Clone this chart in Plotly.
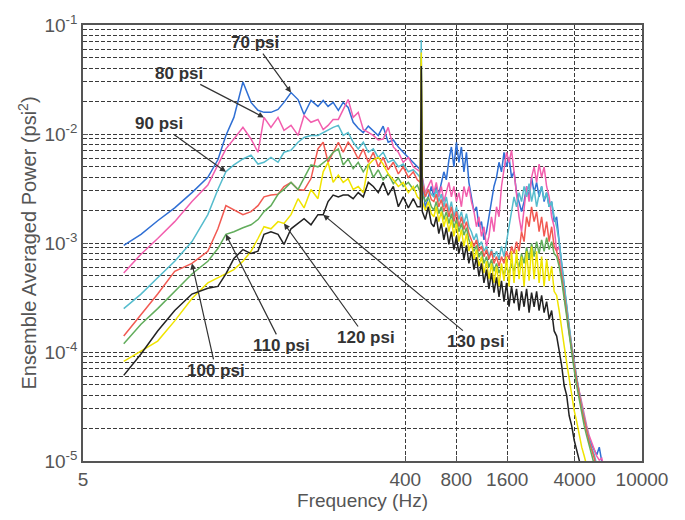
import math
import plotly.graph_objects as go

# Frequency bins (Hz) shared by all pressure cases
FREQ = [8.7, 11.0, 13.8, 17.4, 22.0, 27.3, 31.3, 34.9, 38.9, 44.0,
        49.1, 54.0, 58.6, 64.4, 70.9, 76.9, 84.6, 93.1, 101, 111,
        122, 131, 140, 150, 161, 172, 184, 197, 211, 226,
        242, 259, 277, 296, 317, 340, 364, 389, 417, 446,
        471, 491, 497, 504, 525, 547, 570,
        590, 610, 631, 653, 676, 699, 724, 749, 775, 802,
        829, 858, 888, 919, 950, 983, 1018, 1053, 1089, 1127,
        1166, 1207, 1248, 1292, 1336, 1383, 1431, 1480, 1532, 1585,
        1640, 1697, 1755, 1816, 1879, 1944, 2012, 2082, 2154, 2228,
        2306, 2386, 2468, 2554, 2642, 2734, 2829, 2927, 3028, 3133,
        3242, 3355, 3471, 3591, 3716, 3845, 3978, 4116, 4258, 4406,
        4559, 4717, 4881, 5050, 5225, 5406, 5593, 5787, 5988, 6196]

# Ensemble averaged power (psi^2) for each supply pressure
P70 = [9.5e-4, 1.2e-3, 1.6e-3, 2.1e-3, 2.9e-3, 4.0e-3, 5.8e-3, 9.7e-3, 1.42e-2, 3.0e-2,
       1.95e-2, 1.65e-2, 1.58e-2, 1.58e-2, 1.68e-2, 1.95e-2, 2.4e-2, 2.07e-2, 1.51e-2, 2.03e-2,
       1.79e-2, 2.03e-2, 1.79e-2, 1.95e-2, 1.65e-2, 1.95e-2, 1.75e-2, 1.28e-2, 1.13e-2, 1.03e-2,
       1.18e-2, 1.08e-2, 9.7e-3, 1.18e-2, 8.4e-3, 8.8e-3, 7.6e-3, 6.8e-3, 6.1e-3, 5.5e-3,
       5.0e-3, 4.7e-3, 1.95e-2, 4.0e-3, 2.1e-3, 2.65e-3, 3.3e-3,
       2.65e-3, 3.3e-3, 2.8e-3, 3.6e-3, 4.5e-3, 3.8e-3, 5.8e-3, 7.6e-3, 5.0e-3, 8.4e-3,
       5.5e-3, 7.6e-3, 4.5e-3, 6.8e-3, 3.6e-3, 2.65e-3, 1.94e-3, 2.15e-3, 1.41e-3, 1.57e-3,
       1.07e-3, 1.27e-3, 1.74e-3, 2.4e-3, 3.3e-3, 4.0e-3, 5.5e-3, 4.5e-3, 6.8e-3, 5.0e-3,
       6.1e-3, 4.0e-3, 4.5e-3, 2.9e-3, 2.4e-3, 1.94e-3, 2.4e-3, 3.3e-3, 2.65e-3, 4.0e-3,
       2.9e-3, 3.6e-3, 2.65e-3, 3.3e-3, 2.4e-3, 2.9e-3, 2.15e-3, 2.4e-3, 1.57e-3, 1.74e-3,
       1.03e-3, 6.8e-4, 4.0e-4, 2.6e-4, 1.56e-4, 1.03e-4, 7.5e-5, 5.5e-5, 4.0e-5, 3.2e-5,
       2.4e-5, 1.9e-5, 1.6e-5, 1.4e-5, 1.26e-5, 1.14e-5, 1.34e-5, 9.8e-6, 7.5e-6, 5.4e-6]

P80 = [5.3e-4, 7.9e-4, 1.1e-3, 1.57e-3, 2.4e-3, 3.4e-3, 5.2e-3, 7.3e-3, 9.0e-3, 1.15e-2,
       9.0e-3, 6.8e-3, 1.42e-2, 1.15e-2, 1.42e-2, 1.08e-2, 1.2e-2, 9.7e-3, 1.48e-2, 1.28e-2,
       1.36e-2, 1.1e-2, 1.2e-2, 1.36e-2, 1.36e-2, 1.68e-2, 2.07e-2, 1.42e-2, 1.58e-2, 1.1e-2,
       1.03e-2, 9.7e-3, 8.8e-3, 9.0e-3, 1.15e-2, 7.6e-3, 6.8e-3, 5.5e-3, 6.1e-3, 5.0e-3,
       4.7e-3, 4.5e-3, 1.28e-2, 4.0e-3, 2.9e-3, 3.3e-3, 3.8e-3,
       2.9e-3, 3.6e-3, 2.65e-3, 3.3e-3, 2.4e-3, 2.9e-3, 3.6e-3, 2.65e-3, 3.3e-3, 2.4e-3,
       2.9e-3, 2.15e-3, 3.3e-3, 2.65e-3, 3.3e-3, 2.4e-3, 1.94e-3, 1.41e-3, 1.74e-3, 1.15e-3,
       1.41e-3, 9.3e-4, 1.15e-3, 1.74e-3, 1.27e-3, 2.15e-3, 1.74e-3, 3.3e-3, 5.0e-3, 6.8e-3,
       5.5e-3, 7.1e-3, 4.5e-3, 2.65e-3, 1.74e-3, 1.27e-3, 2.15e-3, 3.3e-3, 2.4e-3, 4.0e-3,
       5.0e-3, 3.6e-3, 5.3e-3, 4.0e-3, 5.0e-3, 3.3e-3, 2.65e-3, 1.74e-3, 1.41e-3, 8.4e-4,
       9.3e-4, 5.5e-4, 3.6e-4, 2.4e-4, 1.56e-4, 1.14e-4, 8.3e-5, 5.7e-5, 4.4e-5, 3.4e-5,
       2.6e-5, 2.1e-5, 1.7e-5, 1.46e-5, 1.26e-5, 1.11e-5, 1.02e-5, 1.06e-5, 8.3e-6, 6.0e-6]

P90 = [2.5e-4, 3.4e-4, 4.8e-4, 6.8e-4, 1.03e-3, 1.82e-3, 3.1e-3, 4.5e-3, 5.2e-3, 5.9e-3,
       6.4e-3, 5.3e-3, 5.5e-3, 6.1e-3, 5.5e-3, 6.8e-3, 7.1e-3, 8.4e-3, 9.3e-3, 9.7e-3,
       9.7e-3, 1.03e-2, 1.1e-2, 1.15e-2, 1.2e-2, 9.7e-3, 1.03e-2, 8.4e-3, 7.3e-3, 8.4e-3,
       6.8e-3, 7.3e-3, 6.1e-3, 6.8e-3, 5.5e-3, 5.8e-3, 5.0e-3, 5.3e-3, 4.5e-3, 4.7e-3,
       4.3e-3, 4.0e-3, 7.3e-2, 3.8e-3, 2.65e-3, 3.1e-3, 2.8e-3,
       2.65e-3, 3.1e-3, 2.4e-3, 2.8e-3, 2.15e-3, 2.65e-3, 1.94e-3, 2.4e-3, 1.74e-3, 2.15e-3,
       1.64e-3, 1.94e-3, 1.51e-3, 1.86e-3, 1.41e-3, 1.27e-3, 1.07e-3, 1.22e-3, 9.3e-4, 1.03e-3,
       8.4e-4, 9.3e-4, 7.5e-4, 8.7e-4, 7.4e-4, 8.4e-4, 7.1e-4, 9.3e-4, 7.5e-4, 1.03e-3,
       1.41e-3, 1.94e-3, 2.65e-3, 2.15e-3, 2.9e-3, 2.4e-3, 3.3e-3, 2.65e-3, 3.5e-3, 2.4e-3,
       3.1e-3, 2.15e-3, 2.8e-3, 3.3e-3, 2.5e-3, 2.9e-3, 2.15e-3, 2.4e-3, 1.74e-3, 1.41e-3,
       1.03e-3, 6.5e-4, 4.0e-4, 2.6e-4, 1.74e-4, 1.14e-4, 8.0e-5, 5.7e-5, 4.25e-5, 3.2e-5,
       2.5e-5, 1.9e-5, 1.55e-5, 1.31e-5, 1.14e-5, 9.2e-6, 7.5e-6, 6.0e-6, 4.9e-6, 4.0e-6]

P100 = [1.4e-4, 2.2e-4, 3.4e-4, 5.5e-4, 6.5e-4, 8.4e-4, 1.35e-3, 2.2e-3, 2.0e-3, 1.82e-3,
        1.94e-3, 2.2e-3, 2.65e-3, 2.75e-3, 2.8e-3, 3.3e-3, 3.6e-3, 3.1e-3, 3.05e-3, 3.9e-3,
        7.3e-3, 8.4e-3, 5.5e-3, 6.8e-3, 8.4e-3, 6.8e-3, 8.4e-3, 7.3e-3, 5.9e-3, 7.3e-3,
        5.5e-3, 6.8e-3, 5.0e-3, 6.1e-3, 4.7e-3, 5.5e-3, 4.3e-3, 5.0e-3, 4.0e-3, 4.5e-3,
        3.8e-3, 3.6e-3, 4.5e-2, 3.5e-3, 2.65e-3, 3.1e-3, 2.5e-3,
        2.4e-3, 2.8e-3, 2.15e-3, 2.5e-3, 1.94e-3, 2.3e-3, 1.74e-3, 2.15e-3, 1.57e-3, 1.94e-3,
        1.41e-3, 1.74e-3, 1.33e-3, 1.57e-3, 1.22e-3, 1.07e-3, 9.3e-4, 1.07e-3, 8.4e-4, 9.3e-4,
        7.5e-4, 8.7e-4, 7.1e-4, 8.4e-4, 6.5e-4, 7.5e-4, 6.1e-4, 7.5e-4, 6.5e-4, 8.4e-4,
        7.1e-4, 9.3e-4, 8.0e-4, 1.03e-3, 8.4e-4, 1.27e-3, 1.03e-3, 1.74e-3, 1.41e-3, 2.15e-3,
        1.57e-3, 1.94e-3, 1.27e-3, 1.74e-3, 1.15e-3, 1.57e-3, 1.03e-3, 1.41e-3, 9.3e-4, 8.4e-4,
        6.8e-4, 4.95e-4, 3.5e-4, 2.3e-4, 1.5e-4, 1.03e-4, 7.5e-5, 5.5e-5, 4.0e-5, 3.0e-5,
        2.4e-5, 1.84e-5, 1.49e-5, 1.26e-5, 1.06e-5, 8.3e-6, 6.7e-6, 5.2e-6, 4.4e-6, 3.6e-6]

P110 = [1.19e-4, 1.8e-4, 2.5e-4, 3.6e-4, 5.2e-4, 6.8e-4, 8.9e-4, 1.2e-3, 1.27e-3, 1.38e-3,
        1.47e-3, 1.64e-3, 1.94e-3, 2.2e-3, 2.8e-3, 3.1e-3, 3.6e-3, 3.1e-3, 4.0e-3, 5.2e-3,
        5.0e-3, 5.5e-3, 5.9e-3, 6.8e-3, 7.3e-3, 5.2e-3, 5.9e-3, 4.8e-3, 5.5e-3, 4.5e-3,
        5.3e-3, 4.0e-3, 4.7e-3, 3.8e-3, 4.3e-3, 3.5e-3, 3.95e-3, 3.3e-3, 3.6e-3, 3.1e-3,
        3.4e-3, 2.9e-3, 5.0e-2, 2.8e-3, 2.4e-3, 2.65e-3, 2.15e-3,
        2.0e-3, 2.4e-3, 1.86e-3, 2.15e-3, 1.64e-3, 1.94e-3, 1.51e-3, 1.86e-3, 1.38e-3, 1.64e-3,
        1.27e-3, 1.51e-3, 1.18e-3, 1.38e-3, 1.07e-3, 9.5e-4, 8.4e-4, 9.5e-4, 7.4e-4, 8.4e-4,
        6.5e-4, 7.5e-4, 6.0e-4, 7.1e-4, 5.5e-4, 6.5e-4, 5.3e-4, 6.1e-4, 5.1e-4, 6.0e-4,
        5.3e-4, 6.5e-4, 5.5e-4, 7.1e-4, 6.0e-4, 8.0e-4, 6.5e-4, 9.1e-4, 7.1e-4, 9.9e-4,
        7.5e-4, 1.03e-3, 8.0e-4, 1.07e-3, 8.4e-4, 1.12e-3, 8.7e-4, 1.03e-3, 8.0e-4, 7.5e-4,
        6.1e-4, 4.5e-4, 3.1e-4, 2.0e-4, 1.32e-4, 9.2e-5, 6.8e-5, 4.9e-5, 3.6e-5, 2.8e-5,
        2.1e-5, 1.69e-5, 1.4e-5, 1.18e-5, 9.8e-6, 7.9e-6, 6.4e-6, 5.2e-6, 4.2e-6, 3.4e-6]

P120 = [8.2e-5, 1.03e-4, 1.26e-4, 1.93e-4, 3.1e-4, 4.3e-4, 4.8e-4, 5.3e-4, 5.7e-4, 6.8e-4,
        8.4e-4, 1.1e-3, 1.41e-3, 1.35e-3, 1.57e-3, 1.51e-3, 1.82e-3, 2.55e-3, 2.1e-3, 3.1e-3,
        2.55e-3, 4.5e-3, 5.5e-3, 3.6e-3, 4.2e-3, 3.6e-3, 3.9e-3, 3.1e-3, 3.3e-3, 2.9e-3,
        5.2e-3, 5.8e-3, 6.1e-3, 5.3e-3, 4.3e-3, 3.8e-3, 3.3e-3, 3.6e-3, 2.9e-3, 3.3e-3,
        2.65e-3, 2.5e-3, 5.6e-2, 2.4e-3, 2.0e-3, 2.4e-3, 1.86e-3,
        1.74e-3, 2.15e-3, 1.57e-3, 1.94e-3, 1.41e-3, 1.74e-3, 1.27e-3, 1.64e-3, 1.15e-3, 1.51e-3,
        1.03e-3, 1.33e-3, 9.3e-4, 1.22e-3, 8.4e-4, 1.03e-3, 7.1e-4, 8.7e-4, 6.1e-4, 7.5e-4,
        5.3e-4, 6.8e-4, 4.65e-4, 6.5e-4, 4.3e-4, 6.1e-4, 4.0e-4, 6.5e-4, 4.5e-4, 7.5e-4,
        4.0e-4, 8.4e-4, 4.3e-4, 8.7e-4, 4.65e-4, 7.5e-4, 4.0e-4, 8.4e-4, 4.5e-4, 9.3e-4,
        4.65e-4, 8.4e-4, 4.3e-4, 7.5e-4, 4.0e-4, 7.1e-4, 4.5e-4, 6.1e-4, 3.6e-4, 3.3e-4,
        2.4e-4, 1.56e-4, 1.14e-4, 8.0e-5, 5.7e-5, 4.0e-5, 2.9e-5, 2.3e-5, 1.7e-5, 1.34e-5,
        1.11e-5, 9.2e-6, 7.5e-6, 6.0e-6, 4.9e-6, 4.0e-6, 3.2e-6, 2.6e-6, 2.1e-6, 1.7e-6]

P130 = [6.1e-5, 9.6e-5, 1.56e-4, 2.4e-4, 3.4e-4, 3.85e-4, 4.0e-4, 5.2e-4, 7.2e-4, 8.7e-4,
        8.0e-4, 8.4e-4, 1.2e-3, 1.27e-3, 1.2e-3, 9.7e-4, 1.35e-3, 1.51e-3, 1.67e-3, 1.47e-3,
        1.82e-3, 1.82e-3, 2.4e-3, 2.75e-3, 2.65e-3, 2.75e-3, 2.75e-3, 2.55e-3, 2.9e-3, 2.65e-3,
        3.6e-3, 3.3e-3, 2.9e-3, 3.6e-3, 2.75e-3, 3.3e-3, 2.15e-3, 2.65e-3, 2.1e-3, 2.55e-3,
        2.15e-3, 2.15e-3, 4.2e-2, 1.94e-3, 1.64e-3, 2.15e-3, 1.51e-3,
        1.41e-3, 1.74e-3, 1.22e-3, 1.51e-3, 1.07e-3, 1.38e-3, 9.7e-4, 1.27e-3, 8.7e-4, 1.15e-3,
        8.0e-4, 1.03e-3, 7.1e-4, 9.5e-4, 6.5e-4, 8.4e-4, 5.7e-4, 7.4e-4, 4.95e-4, 6.5e-4,
        4.3e-4, 5.7e-4, 3.8e-4, 5.3e-4, 3.5e-4, 4.85e-4, 3.2e-4, 4.5e-4, 2.9e-4, 4.3e-4,
        2.6e-4, 4.0e-4, 2.8e-4, 3.8e-4, 2.4e-4, 3.6e-4, 2.6e-4, 3.8e-4, 2.3e-4, 3.5e-4,
        2.6e-4, 3.6e-4, 2.4e-4, 3.3e-4, 2.3e-4, 2.9e-4, 2.0e-4, 2.4e-4, 1.56e-4, 1.4e-4,
        1.03e-4, 7.5e-5, 4.9e-5, 4.0e-5, 2.6e-5, 2.1e-5, 1.55e-5, 1.26e-5, 1.02e-5, 8.3e-6,
        6.7e-6, 5.4e-6, 4.4e-6, 3.6e-6, 2.9e-6, 2.35e-6, 1.9e-6, 1.5e-6, 1.25e-6, 1.0e-6]

LABELS = ["70 psi", "80 psi", "90 psi", "100 psi", "110 psi", "120 psi", "130 psi"]
SERIES = [P70, P80, P90, P100, P110, P120, P130]
COLORS = ["#2f6fd4", "#f25fae", "#55bccd", "#f25a52", "#62ad5c", "#f0e400", "#222222"]

X_TICKS = [5, 400, 800, 1600, 4000, 10000]
Y_TICKS = [1e-5, 1e-4, 1e-3, 1e-2, 1e-1]
Y_TICKTEXT = ["10<sup>-5</sup>", "10<sup>-4</sup>", "10<sup>-3</sup>",
              "10<sup>-2</sup>", "10<sup>-1</sup>"]

# label placement: (index of the point the arrow touches, text offset in px)
CALLOUTS = [(16, -36, -50), (12, -85, -44), (7, -67, -48), (4, 24, 107),
            (7, 56, 111), (15, 82, 114), (21, 153, 127)]

fig = go.Figure()
for name, vals, col in zip(LABELS, SERIES, COLORS):
    fig.add_trace(go.Scatter(x=FREQ, y=vals, mode="lines", name=name,
                             line=dict(color=col, width=1.5)))

for (idx, ax, ay), name, vals in zip(CALLOUTS, LABELS, SERIES):
    fig.add_annotation(x=math.log10(FREQ[idx]), y=math.log10(vals[idx]),
                       xref="x", yref="y", text="<b>%s</b>" % name,
                       showarrow=True, ax=ax, ay=ay, arrowhead=2, arrowsize=1,
                       arrowwidth=1.2, arrowcolor="#333",
                       font=dict(family="Liberation Sans, Arial", size=17, color="#333"))

minor_y = [k * 10.0 ** e for e in range(-5, -1) for k in range(2, 10)]
grid_style = dict(gridcolor="#3a3a3a", gridwidth=1, griddash="4px,2px")

fig.update_xaxes(type="log", range=[math.log10(5), 4], tickvals=X_TICKS,
                 ticktext=[str(v) for v in X_TICKS], showgrid=True, **grid_style,
                 showline=True, mirror=True, linecolor="#555", linewidth=1.5,
                 ticks="inside", ticklen=5, tickcolor="#555", zeroline=False,
                 tickfont=dict(size=19, color="#555"),
                 title=dict(text="Frequency (Hz)", font=dict(size=19, color="#555"), standoff=4))
fig.update_yaxes(type="log", range=[-5, -1], tickvals=Y_TICKS, ticktext=Y_TICKTEXT,
                 showgrid=True, **grid_style,
                 minor=dict(tickvals=minor_y, showgrid=True, ticks="", **grid_style),
                 showline=True, mirror="ticks", linecolor="#555", linewidth=1.5,
                 ticks="inside", ticklen=5, tickcolor="#555", zeroline=False,
                 tickfont=dict(size=19, color="#555"),
                 title=dict(text="Ensemble Averaged Power (psi<sup>2</sup>)",
                            font=dict(size=20, color="#555"), standoff=2))

fig.update_layout(width=685, height=520, margin=dict(l=83, r=43, t=22, b=59),
                  paper_bgcolor="white", plot_bgcolor="white", showlegend=False,
                  font=dict(family="Liberation Sans, Arial", color="#555"))

fig.write_html("out.html")
